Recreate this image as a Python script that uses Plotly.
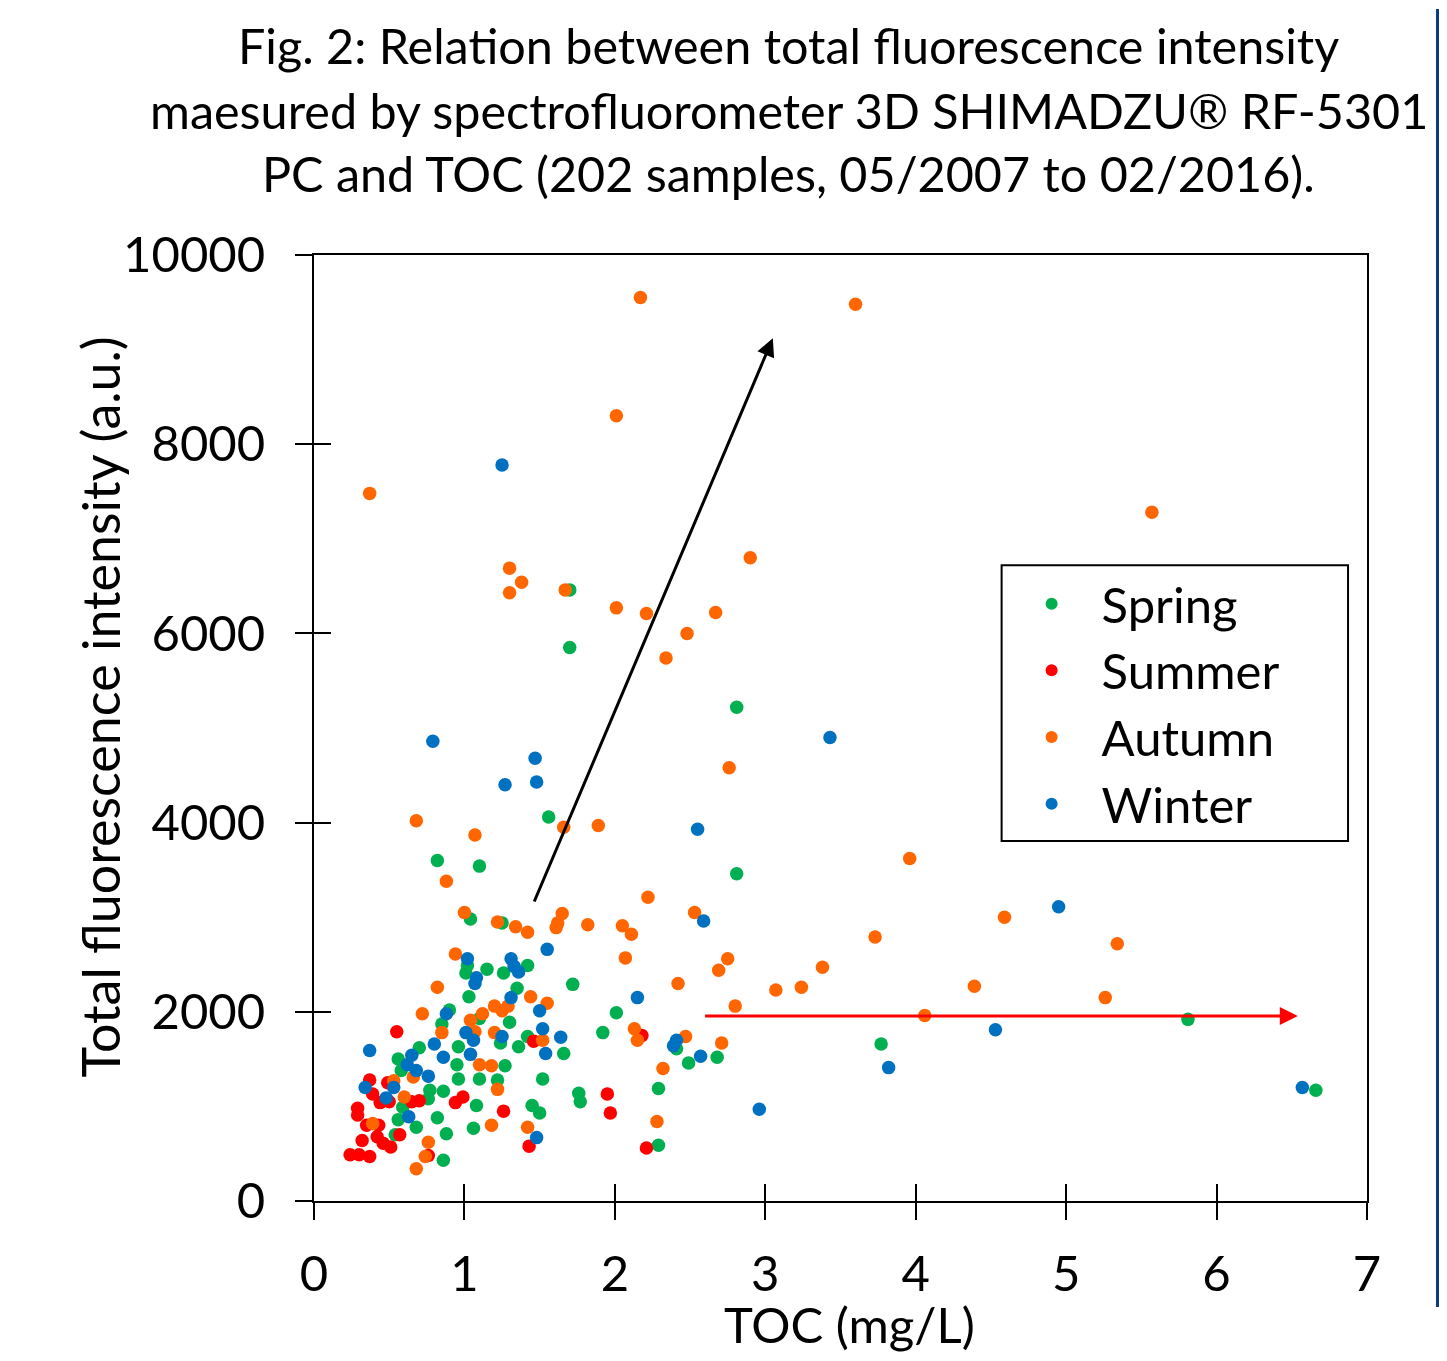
import plotly.graph_objects as go

# ---- data (TOC mg/L, total fluorescence intensity a.u.) ----
spring_toc = [0.90, 0.85, 0.70, 0.56, 0.58, 0.96, 0.95, 0.96, 1.27, 1.10, 1.22, 0.77, 0.86, 0.59, 0.76,
              1.08, 0.56, 0.68, 0.82, 1.06, 0.88, 0.54, 0.86, 1.04, 1.25, 1.02, 1.01, 1.15, 1.26, 1.42,
              1.72, 1.35, 1.03, 1.10, 1.30, 1.24, 1.42, 1.36, 1.66, 1.92, 2.01, 1.52, 1.76, 1.77, 1.45,
              1.50, 2.29, 2.29, 2.41, 2.68, 2.49, 1.70, 1.70, 2.81, 1.56, 0.82, 1.10, 2.81, 5.81, 3.77, 6.66]
spring_tfi = [2020, 1870, 1620, 1500, 1380, 1630, 1440, 1290, 1430, 1290, 1280, 1170, 1160, 990, 1080,
              1010, 860, 780, 880, 770, 710, 700, 430, 2980, 2940, 2490, 2410, 2450, 2410, 2490,
              2290, 2250, 2160, 1930, 1890, 1670, 1740, 1630, 1560, 1780, 1990, 1290, 1140, 1050, 1010,
              930, 1190, 590, 1610, 1520, 1460, 6460, 5850, 5220, 4060, 3600, 3540, 3460, 1920, 1660, 1170]

summer_toc = [0.55, 0.37, 0.49, 0.39, 0.44, 0.50, 0.65, 0.70, 0.29, 0.29, 0.99, 0.94, 1.26, 0.35, 0.43,
              0.32, 0.42, 0.46, 0.51, 0.57, 0.24, 0.30, 0.37, 0.76, 1.46, 2.18, 1.95, 1.97, 1.43, 2.21]
summer_tfi = [1790, 1280, 1250, 1130, 1040, 1050, 1050, 1060, 980, 910, 1100, 1040, 950, 800, 800,
              640, 680, 610, 570, 700, 490, 490, 470, 480, 1690, 1750, 1130, 930, 580, 560]

autumn_toc = [0.72, 0.85, 1.04, 1.12, 1.20, 0.66, 1.10, 1.18, 1.22, 0.53, 0.60, 0.39, 1.18, 0.76, 0.74,
              0.68, 0.88, 1.00, 1.22, 1.34, 1.42, 1.65, 1.62, 1.61, 1.82, 0.94, 0.82, 1.44, 1.55, 1.20,
              1.25, 1.29, 1.07, 1.52, 2.22, 2.05, 2.11, 2.07, 2.42, 2.13, 2.15, 2.32, 1.42, 2.28, 2.53,
              2.75, 2.69, 3.07, 2.80, 2.47, 2.71, 2.17, 3.60, 2.01, 0.37, 5.57, 2.90, 1.30, 1.38, 1.30,
              1.67, 2.01, 2.21, 2.67, 2.48, 2.34, 2.76, 3.96, 0.68, 1.07, 1.66, 1.89, 4.59, 3.73, 5.34,
              3.38, 3.24, 4.39, 5.26, 4.06]
autumn_tfi = [1980, 1780, 1910, 1980, 1780, 1310, 1440, 1430, 1180, 1270, 1100, 820, 800, 620, 470,
              340, 3380, 3050, 2950, 2900, 2840, 3040, 2940, 2890, 2920, 2610, 2260, 2160, 2090, 2060,
              2010, 2060, 1790, 1700, 3210, 2910, 2820, 2570, 2300, 1820, 1700, 1400, 780, 840, 3050,
              2560, 2440, 2230, 2060, 1740, 1670, 9550, 9480, 8300, 7480, 7280, 6800, 6690, 6540, 6430,
              6460, 6270, 6210, 6220, 6000, 5740, 4580, 3620, 4020, 3870, 3950, 3970, 3000, 2790, 2720,
              2470, 2260, 2270, 2150, 1960]

winter_toc = [0.88, 0.80, 0.86, 0.37, 0.65, 0.62, 0.68, 0.76, 1.01, 1.06, 1.04, 1.25, 0.34, 0.53, 0.48,
              0.63, 1.55, 1.02, 1.31, 1.33, 1.36, 1.08, 1.07, 1.31, 1.50, 1.52, 1.64, 1.54, 1.48, 2.15,
              2.41, 2.39, 2.57, 2.96, 2.59, 1.25, 0.79, 1.47, 1.48, 1.27, 3.43, 2.55, 4.95, 4.53, 3.82, 6.57]
winter_tfi = [1980, 1660, 1520, 1590, 1540, 1440, 1380, 1320, 1780, 1700, 1550, 1740, 1200, 1200, 1090,
              890, 2660, 2560, 2560, 2480, 2420, 2360, 2300, 2150, 2010, 1820, 1730, 1560, 670, 2150,
              1700, 1640, 1530, 970, 2960, 7780, 4860, 4680, 4430, 4400, 4900, 3930, 3110, 1810, 1410, 1200]

series_names = ["Spring", "Summer", "Autumn", "Winter"]
series_colors = ["#00B050", "#FF0000", "#FF6600", "#0070C0"]
series_x = [spring_toc, summer_toc, autumn_toc, winter_toc]
series_y = [spring_tfi, summer_tfi, autumn_tfi, winter_tfi]

x_ticks = [0, 1, 2, 3, 4, 5, 6, 7]
x_tick_text = ["0", "1", "2", "3", "4", "5", "6", "7"]
y_ticks = [0, 2000, 4000, 6000, 8000, 10000]
y_tick_text = ["0", "2000", "4000", "6000", "8000", "10000"]

title_lines = [
    "Fig. 2: Relation between total fluorescence intensity",
    "maesured by spectrofluorometer 3D SHIMADZU® RF-5301",
    "PC and TOC (202 samples, 05/2007 to 02/2016).",
]
x_title = "TOC (mg/L)"
y_title = "Total fluorescence intensity (a.u.)"

# arrows (data coordinates): start -> end
black_arrow = dict(x0=1.46, y0=3150, x1=3.05, y1=9120)
red_arrow = dict(x0=2.59, y0=1955, x1=6.54, y1=1955)

FONT = "Lato, Carlito, Calibri, sans-serif"

fig = go.Figure()
for name, color, xs, ys in zip(series_names, series_colors, series_x, series_y):
    fig.add_trace(go.Scatter(
        x=xs, y=ys, mode="markers", name=name,
        marker=dict(color=color, size=13.5, line=dict(width=0)),
    ))

common_axis = dict(showline=True, linecolor="black", linewidth=2, mirror=True,
                   showgrid=False, zeroline=False, ticks="outside", ticklen=17,
                   tickwidth=2, tickcolor="black",
                   tickfont=dict(family=FONT, size=49, color="black"))

fig.update_layout(
    width=1431, height=1345,
    margin=dict(l=306, r=72, t=247, b=152),
    paper_bgcolor="white", plot_bgcolor="white",
    font=dict(family=FONT, color="black"),
    xaxis=dict(range=[0, 7], tickvals=x_ticks, ticktext=x_tick_text, ticklabelstandoff=12,
               **common_axis),
    yaxis=dict(range=[0, 10000], tickvals=y_ticks, ticktext=y_tick_text, ticklabelstandoff=20,
               **common_axis),
    xaxis2=dict(range=[0, 7], tickvals=x_ticks, overlaying="x", anchor="y", side="bottom",
                showticklabels=False, showline=False, showgrid=False, zeroline=False,
                ticks="inside", ticklen=17, tickwidth=2, tickcolor="black"),
    yaxis2=dict(range=[0, 10000], tickvals=y_ticks, overlaying="y", anchor="x", side="left",
                showticklabels=False, showline=False, showgrid=False, zeroline=False,
                ticks="inside", ticklen=17, tickwidth=2, tickcolor="black"),
    legend=dict(x=0.653, y=0.672, xanchor="left", yanchor="top",
                borderwidth=0, bgcolor="rgba(0,0,0,0)",
                font=dict(family=FONT, size=49, color="black"),
                itemwidth=90, itemsizing="constant"),
    showlegend=True,
)

# invisible trace to activate the overlay axes (inner tick halves)
fig.add_trace(go.Scatter(x=[0], y=[0], xaxis="x2", yaxis="y2", mode="markers",
                         marker=dict(opacity=0), showlegend=False, hoverinfo="skip"))

# legend frame
fig.add_shape(type="rect", xref="paper", yref="paper", x0=0.653, x1=0.982, y0=0.3805, y1=0.672,
              line=dict(color="black", width=2), fillcolor="rgba(0,0,0,0)", layer="above")

title_y = [1.222, 1.153, 1.087]
for line, yy in zip(title_lines, title_y):
    fig.add_annotation(text=line, xref="paper", yref="paper", x=0.451, y=yy,
                       xanchor="center", yanchor="middle", showarrow=False,
                       font=dict(family=FONT, size=48.5, color="black"))

fig.add_annotation(text=x_title, xref="paper", yref="paper", x=0.509, y=-0.130,
                   xanchor="center", yanchor="middle", showarrow=False,
                   font=dict(family=FONT, size=49, color="black"))
fig.add_annotation(text=y_title, xref="paper", yref="paper", x=-0.203, y=0.522,
                   xanchor="center", yanchor="middle", showarrow=False, textangle=-90,
                   font=dict(family=FONT, size=52, color="black"))

fig.add_annotation(x=black_arrow["x1"], y=black_arrow["y1"], ax=black_arrow["x0"], ay=black_arrow["y0"],
                   xref="x", yref="y", axref="x", ayref="y", showarrow=True, text="",
                   arrowhead=2, arrowsize=1.2, arrowwidth=3, arrowcolor="black")
fig.add_annotation(x=red_arrow["x1"], y=red_arrow["y1"], ax=red_arrow["x0"], ay=red_arrow["y0"],
                   xref="x", yref="y", axref="x", ayref="y", showarrow=True, text="",
                   arrowhead=2, arrowsize=1.2, arrowwidth=3, arrowcolor="#FF0000")

# dark blue strip at the right edge of the slide
fig.add_shape(type="rect", xref="paper", yref="paper", x0=1.0655, x1=1.0695, y0=-0.112, y1=1.26,
              fillcolor="#0B3D7E", line=dict(width=0), layer="above")

fig.write_html("out.html")
